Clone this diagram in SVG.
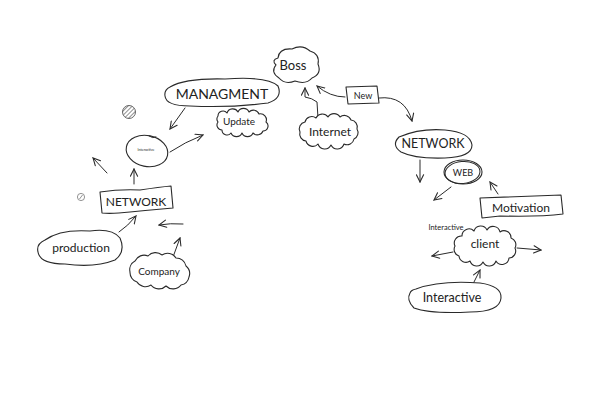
<svg xmlns="http://www.w3.org/2000/svg" width="600" height="419" viewBox="0 0 600 419">
<style>
.s{fill:#fff;stroke:#2a2a2a;stroke-width:1.1;stroke-linejoin:round;stroke-linecap:round}
.c{fill:none;stroke:#2a2a2a;stroke-width:1;stroke-linecap:round;stroke-linejoin:round}
.t{font-family:Lato,"Noto Sans","DejaVu Sans",sans-serif;fill:#222;text-anchor:middle}
</style>
<defs>
<marker id="ah" viewBox="0 0 10 10" refX="9" refY="5" markerWidth="9" markerHeight="9" markerUnits="userSpaceOnUse" orient="auto">
<path d="M1,1 L9,5 L1,9" fill="none" stroke="#2a2a2a" stroke-width="1.2" stroke-linecap="round"/>
</marker>
<pattern id="hatch" width="3" height="3" patternUnits="userSpaceOnUse" patternTransform="rotate(45)">
<line x1="0" y1="0" x2="0" y2="3" stroke="#444" stroke-width="1.2"/>
</pattern>
</defs>
<rect width="600" height="419" fill="#fff"/>

<g id="connectors">
<path class="c" marker-end="url(#ah)" d="M185,108 L170,129"/>
<path class="c" marker-end="url(#ah)" d="M170,152 Q185,142 203,135"/>
<path class="c" marker-end="url(#ah)" d="M107,173 L93,158"/>
<path class="c" marker-end="url(#ah)" d="M134,184 L134,169"/>
<path class="c" marker-end="url(#ah)" d="M119,232 Q128,226 136,216"/>
<path class="c" marker-end="url(#ah)" d="M183,224 Q170,223 159,225"/>
<path class="c" marker-end="url(#ah)" d="M173,257 L180,238"/>
<path class="c" marker-end="url(#ah)" d="M318,118 L317,102 Q312,98 305,97 L305,88"/>
<path class="c" marker-end="url(#ah)" d="M345,97 Q330,97 317,86"/>
<path class="c" marker-end="url(#ah)" d="M379,98 Q405,95 412,121"/>
<path class="c" marker-end="url(#ah)" d="M420,160 L420,182"/>
<path class="c" marker-end="url(#ah)" d="M451,187 L434,200"/>
<path class="c" marker-end="url(#ah)" d="M498,194 L490,182"/>
<path class="c" marker-end="url(#ah)" d="M453,252 L432,256"/>
<path class="c" marker-end="url(#ah)" d="M517,248 L541,250"/>
<path class="c" marker-end="url(#ah)" d="M473,284 L480,270"/>
</g>

<g id="hatched-dot">
<circle cx="129" cy="112" r="6.5" fill="url(#hatch)" stroke="#555" stroke-width="0.9"/>
</g>
<g id="small-dot">
<circle cx="81" cy="197" r="3.6" fill="#fff" stroke="#777" stroke-width="0.8"/>
<line x1="79.5" y1="199" x2="82.5" y2="195" stroke="#777" stroke-width="0.8"/>
</g>

<g id="boss">
<path class="s" d="M278,58 Q279,48 292,49 Q302,44 310,51 Q320,54 318,64 Q322,74 312,78 Q306,85 295,81 Q285,85 279,78 Q270,72 276,65 Q271,60 278,58 Z"/>
<text class="t" x="293" y="70" font-size="13">Boss</text>
</g>

<g id="managment">
<path class="s" d="M170,87 Q185,78 225,79 Q268,76 278,86 Q283,98 268,103 Q230,108 190,106 Q166,106 165,96 Q164,90 170,87 Z"/>
<text class="t" x="222" y="99" font-size="14">MANAGMENT</text>
</g>

<g id="update">
<path class="s" d="M218,116 a5,5 0 0 1 9,-3 a6,6 0 0 1 11,-1 a6,6 0 0 1 11,0 a6,6 0 0 1 10,2 a6,6 0 0 1 7,8 a5,5 0 0 1 -3,9 a6,6 0 0 1 -10,2 a6,6 0 0 1 -11,0 a6,6 0 0 1 -11,0 a5,5 0 0 1 -9,-3 a5,5 0 0 1 -4,-8 a5,5 0 0 1 0,-6 Z"/>
<text class="t" x="239" y="125" font-size="10">Update</text>
</g>

<g id="interactive-small">
<ellipse class="s" cx="147" cy="151" rx="21" ry="15.5" transform="rotate(12 147 151)"/>
<path class="c" d="M149,136 Q153,139 156,137"/>
<text class="t" x="146" y="151" font-size="3.6">Interactive</text>
</g>

<g id="network-left">
<path class="s" d="M100,192 Q120,189 140,190 Q160,187 171,186 L173,208 Q150,210 130,212 Q112,214 102,213 Z"/>
<text class="t" x="136" y="205.5" font-size="12">NETWORK</text>
</g>

<g id="production">
<path class="s" d="M45,240 Q60,229 90,231 Q112,228 120,238 Q126,252 115,260 Q95,268 65,264 Q40,264 38,252 Q36,244 45,240 Z"/>
<text class="t" x="81" y="252" font-size="12">production</text>
</g>

<g id="company">
<path class="s" d="M135,261 a10,10 0 0 1 13,-5 a10,10 0 0 1 14,-1 a10,10 0 0 1 14,3 a10,10 0 0 1 10,8 a10,10 0 0 1 3,11 a10,10 0 0 1 -8,8 a10,10 0 0 1 -15,1 a10,10 0 0 1 -15,-1 a10,10 0 0 1 -14,-3 a10,10 0 0 1 -7,-10 a10,10 0 0 1 5,-11 Z"/>
<text class="t" x="159" y="275" font-size="10">Company</text>
</g>

<g id="internet">
<path class="s" d="M305,122 a7,7 0 0 1 11,-4 a7,7 0 0 1 12,-1 a7,7 0 0 1 12,0 a7,7 0 0 1 11,3 a7,7 0 0 1 6,9 a7,7 0 0 1 -3,10 a7,7 0 0 1 -10,5 a7,7 0 0 1 -13,1 a7,7 0 0 1 -13,-1 a7,7 0 0 1 -12,-3 a7,7 0 0 1 -6,-9 a7,7 0 0 1 5,-10 Z"/>
<text class="t" x="330" y="136" font-size="12">Internet</text>
</g>

<g id="new">
<path class="s" d="M346,87 L377,86 L379,103 L348,104 Z"/>
<text class="t" x="363" y="99" font-size="9">New</text>
</g>

<g id="network-right">
<path class="s" d="M399,137 Q420,128 445,130 Q470,132 472,145 Q472,157 445,158 Q415,159 401,152 Q391,145 399,137 Z"/>
<text class="t" x="433" y="148" font-size="12.5">NETWORK</text>
</g>

<g id="web">
<ellipse class="s" cx="463" cy="172" rx="19" ry="12"/>
<ellipse class="c" cx="462.5" cy="172.5" rx="17.5" ry="11" transform="rotate(-5 462.5 172.5)"/>
<text class="t" x="463" y="176" font-size="9">WEB</text>
</g>

<g id="motivation">
<path class="s" d="M480,198 L561,195 L563,214 Q540,217 500,216 L482,218 Z"/>
<text class="t" x="521" y="212" font-size="12">Motivation</text>
</g>

<g id="interactive-label">
<text class="t" x="446" y="230" font-size="7.5">Interactive</text>
</g>

<g id="client">
<path class="s" d="M462,236 a7,7 0 0 1 12,-5 a7,7 0 0 1 13,-1 a7,7 0 0 1 13,2 a7,7 0 0 1 11,6 a7,7 0 0 1 4,10 a7,7 0 0 1 -6,10 a7,7 0 0 1 -13,3 a7,7 0 0 1 -13,1 a7,7 0 0 1 -13,-1 a7,7 0 0 1 -11,-5 a7,7 0 0 1 -4,-10 a7,7 0 0 1 7,-10 Z"/>
<text class="t" x="485" y="248" font-size="12">client</text>
</g>

<g id="interactive-bottom">
<path class="s" d="M416,289 Q440,280 480,283 Q502,286 501,298 Q500,312 470,312 Q430,314 414,308 Q406,300 410,293 Q411,290 416,289 Z"/>
<text class="t" x="452" y="302" font-size="12.5">Interactive</text>
</g>
</svg>
